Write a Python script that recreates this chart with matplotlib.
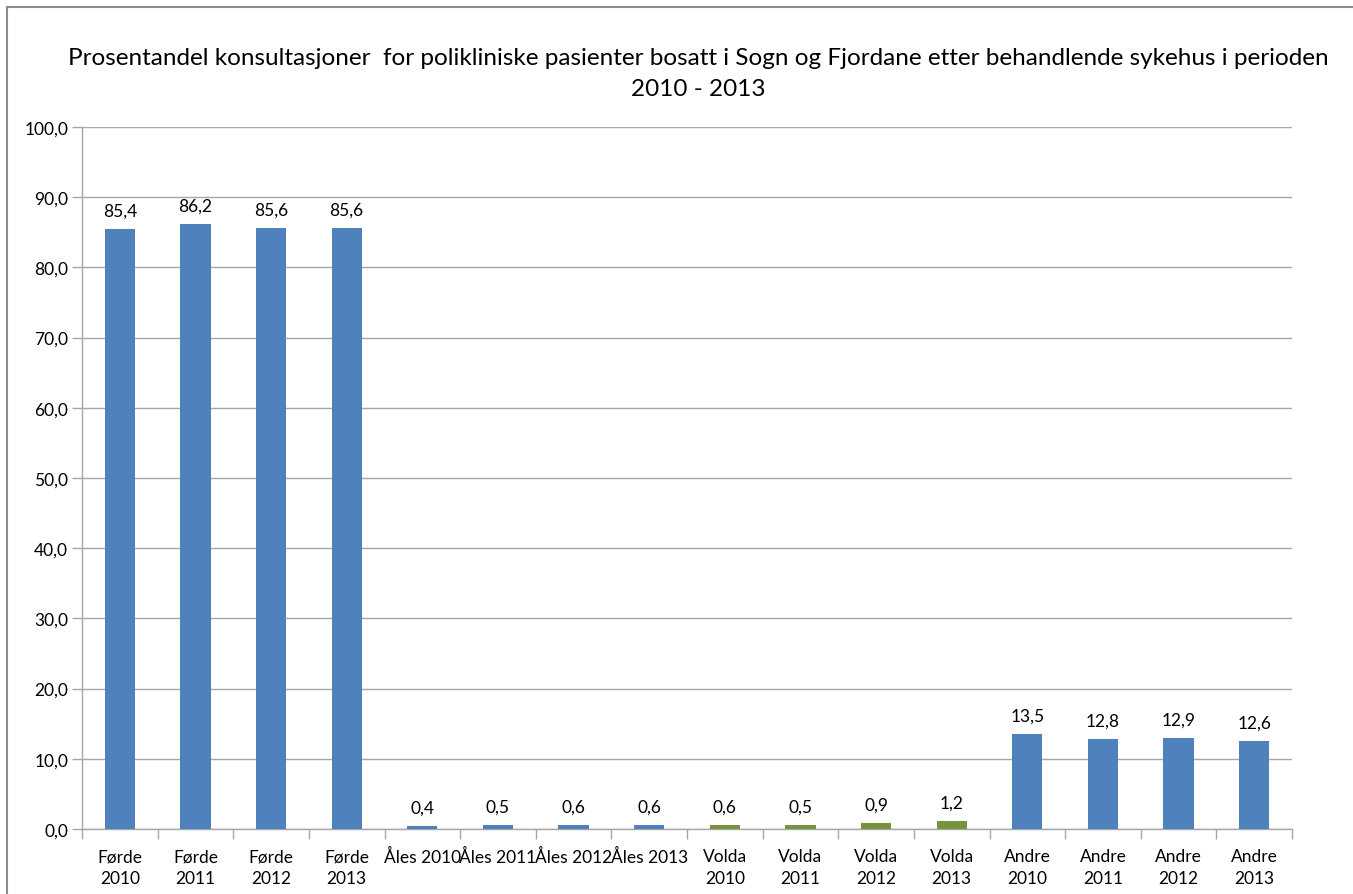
"""Prosentandel konsultasjoner etter behandlende sykehus, 2010-2013."""

import matplotlib
matplotlib.use("Agg")
import matplotlib.pyplot as plt
from matplotlib.patches import Rectangle
from matplotlib.ticker import FuncFormatter, MultipleLocator
import numpy as np

CATEGORIES = [
    "Førde\n2010", "Førde\n2011", "Førde\n2012", "Førde\n2013",
    "Åles 2010", "Åles 2011", "Åles 2012", "Åles 2013",
    "Volda\n2010", "Volda\n2011", "Volda\n2012", "Volda\n2013",
    "Andre\n2010", "Andre\n2011", "Andre\n2012", "Andre\n2013",
]
VALUES = [85.4, 86.2, 85.6, 85.6, 0.4, 0.5, 0.6, 0.6,
          0.6, 0.5, 0.9, 1.2, 13.5, 12.8, 12.9, 12.6]
GROUPS = ["Førde"] * 4 + ["Åles"] * 4 + ["Volda"] * 4 + ["Andre"] * 4

BLUE = "#4F81BD"
GREEN = "#77933C"
GRID = "#A6A6A6"
FONT = ["Lato", "DejaVu Sans"]

plt.rcParams["font.family"] = FONT

W, H = 1353, 895
fig = plt.figure(figsize=(W / 100, H / 100), dpi=100)
fig.patches.append(Rectangle((7 / W, -0.1), 1.2, 1 - 8 / H + 0.1,
                             transform=fig.transFigure, fill=False,
                             edgecolor="#8C8C8C", linewidth=1.5))

ax = fig.add_axes([82 / W, 1 - 830 / H, (1292 - 82) / W, (830 - 128) / H])

x = np.arange(len(CATEGORIES))
colors = [GREEN if g == "Volda" else BLUE for g in GROUPS]
bars = ax.bar(x, VALUES, width=0.4, color=colors, zorder=3)

for rect, v in zip(bars, VALUES):
    ax.annotate(f"{v:.1f}".replace(".", ","),
                (rect.get_x() + rect.get_width() / 2, v),
                xytext=(0, 7.5), textcoords="offset points",
                ha="center", va="bottom", fontsize=12.5)

ax.set_xlim(-0.5, len(CATEGORIES) - 0.5)
ax.set_ylim(0, 100)
ax.yaxis.set_major_locator(MultipleLocator(10))
ax.yaxis.set_major_formatter(FuncFormatter(lambda v, _: f"{v:.1f}".replace(".", ",")))
ax.grid(axis="y", color=GRID, linewidth=1, zorder=0)

ax.set_xticks(x)
ax.set_xticklabels(CATEGORIES, fontsize=12.5, linespacing=1.45)
ax.set_xticks(np.arange(-0.5, len(CATEGORIES)), minor=True)
ax.tick_params(axis="x", which="major", length=0, pad=14)
ax.tick_params(axis="x", which="minor", length=7, color=GRID, width=1)
ax.tick_params(axis="y", length=7, color=GRID, width=1, labelsize=12.5, pad=3)

for side in ("top", "right"):
    ax.spines[side].set_visible(False)
for side in ("left", "bottom"):
    ax.spines[side].set_color(GRID)
    ax.spines[side].set_linewidth(1)

fig.text(698 / W, 1 - 74 / H,
         "Prosentandel konsultasjoner  for polikliniske pasienter bosatt i Sogn og "
         "Fjordane etter behandlende sykehus i perioden\n2010 - 2013",
         ha="center", va="center", fontsize=17.5, linespacing=1.6)

fig.savefig("out.png", dpi=100)
